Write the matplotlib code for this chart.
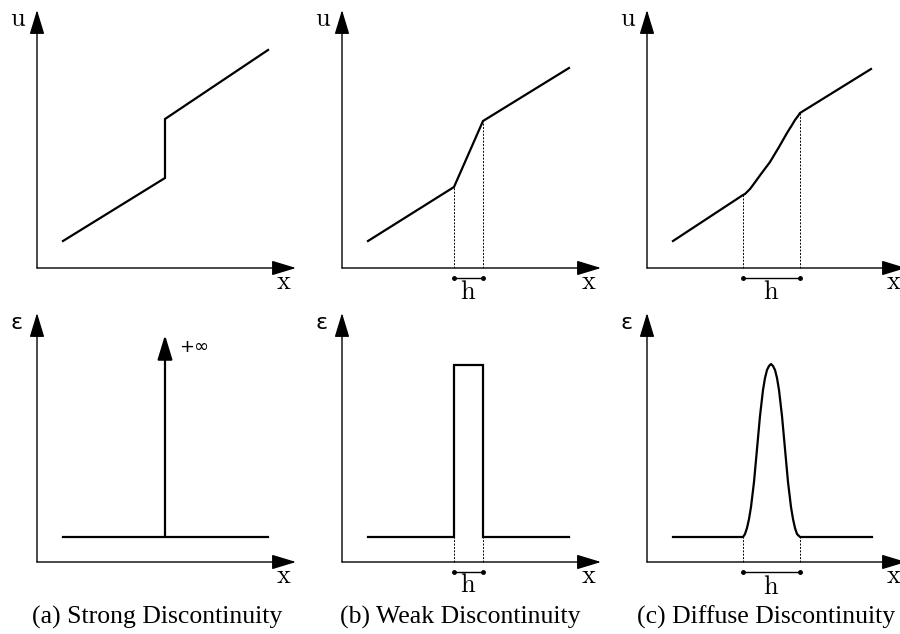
import matplotlib
matplotlib.use("Agg")
import matplotlib.pyplot as plt
from matplotlib.patches import FancyArrowPatch

plt.rcParams['mathtext.fontset'] = 'cm'

## panel origins (figure pixels) and captions
panel_x0 = [37, 342, 647]
top_y0 = 268
bot_y0 = 562
captions = ["(a) Strong Discontinuity", "(b) Weak Discontinuity", "(c) Diffuse Discontinuity"]
caption_dx = [120, 118, 119]

## displacement u(x), local units (x right, y up from origin)
u_strong_x = [26, 128, 128, 231]
u_strong_y = [27, 90, 149, 218]
u_weak_x = [26, 112, 141, 227]
u_weak_y = [27, 81, 147, 200]
u_diffuse_x = [26, 96, 98, 100, 103, 106, 114, 123, 132, 140, 145, 148, 151, 153, 224]
u_diffuse_y = [27, 73, 74, 76, 79, 83, 94, 106, 121, 135, 143, 148, 152, 155, 199]

## strain eps(x)
eps_base = 25
eps_strong_x = [26, 231]
eps_strong_y = [25, 25]
eps_spike_x = 128
eps_spike_top = 227
eps_weak_x = [26, 112, 112, 141, 141, 227]
eps_weak_y = [25, 25, 197, 197, 25, 25]
eps_diffuse_x = [26, 96, 98, 100, 102, 104, 107, 110, 113, 116, 118, 120, 122, 124,
                 126, 128, 130, 132, 135, 138, 141, 144, 146, 148, 150, 153, 225]
eps_diffuse_y = [25, 25, 28, 34, 43, 55, 80, 113, 146, 172, 184, 192, 196, 198,
                 196, 192, 184, 172, 146, 113, 80, 55, 43, 34, 28, 25, 25]

fig = plt.figure(figsize=(9, 6.34), dpi=100)
ax = fig.add_axes([0, 0, 1, 1])
ax.set_xlim(0, 900)
ax.set_ylim(634, 0)
ax.axis('off')

def P(ox, oy, xs, ys):
    return [ox + x for x in xs], [oy - y for y in ys]

def arrow(x1, y1, x2, y2, lw=1.0):
    a = FancyArrowPatch((x1, y1), (x2, y2), arrowstyle='-|>,head_length=1.25,head_width=0.38',
                        mutation_scale=12, lw=lw, color='black', shrinkA=0, shrinkB=0)
    ax.add_patch(a)

def frame(ox, oy, ylab, ytop, xend):
    arrow(ox, oy, ox, oy - ytop)
    arrow(ox, oy, ox + xend, oy)
    if ylab == 'u':
        ax.text(ox - 19, oy - ytop + 9, r'$\mathrm{u}$', fontsize=19, ha='center', va='center')
    else:
        ax.text(ox - 20, oy - ytop + 10, 'ε', fontsize=16, ha='center', va='center',
                family='DejaVu Sans')
    ax.text(ox + xend - 12, oy + 14, r'$\mathrm{x}$', fontsize=19, ha='center', va='center')

def h_marker(ox, oy, x1, x2, ylo, yhi_left, yhi_right, dy_label):
    ax.plot([ox + x1, ox + x1], [oy - ylo, oy - yhi_left], ls=(0, (2, 1.5)), lw=0.7, color='black')
    ax.plot([ox + x2, ox + x2], [oy - ylo, oy - yhi_right], ls=(0, (2, 1.5)), lw=0.7, color='black')
    ax.plot([ox + x1, ox + x2], [oy + 10, oy + 10], lw=1.0, color='black',
            marker='o', markersize=2.5)
    ax.text(ox + (x1 + x2) / 2, oy + dy_label, r'$\mathrm{h}$', fontsize=19, ha='center', va='center')

curve_kw = dict(color='black', lw=1.6, solid_joinstyle='miter')

## top row: u
for i, (xs, ys) in enumerate([(u_strong_x, u_strong_y), (u_weak_x, u_weak_y),
                              (u_diffuse_x, u_diffuse_y)]):
    ox = panel_x0[i]
    frame(ox, top_y0, 'u', 258, 259)
    px, py = P(ox, top_y0, xs, ys)
    ax.plot(px, py, **curve_kw)

h_marker(panel_x0[1], top_y0, 112, 141, 0, 81, 147, 24)
h_marker(panel_x0[2], top_y0, 96, 153, 0, 73, 155, 24)

## bottom row: eps
for i in range(3):
    frame(panel_x0[i], bot_y0, 'eps', 249, 259)

ox = panel_x0[0]
px, py = P(ox, bot_y0, eps_strong_x, eps_strong_y)
ax.plot(px, py, **curve_kw)
arrow(ox + eps_spike_x, bot_y0 - eps_base, ox + eps_spike_x, bot_y0 - eps_spike_top, lw=1.6)
ax.text(ox + eps_spike_x + 14, bot_y0 - eps_spike_top + 12, '+∞', fontsize=13,
        ha='left', va='center', family='DejaVu Sans')

ox = panel_x0[1]
px, py = P(ox, bot_y0, eps_weak_x, eps_weak_y)
ax.plot(px, py, **curve_kw)
h_marker(ox, bot_y0, 112, 141, 0, eps_base, eps_base, 23)

ox = panel_x0[2]
px, py = P(ox, bot_y0, eps_diffuse_x, eps_diffuse_y)
ax.plot(px, py, color='black', lw=1.6)
h_marker(ox, bot_y0, 96, 153, 0, eps_base, eps_base, 25)

## captions
for i in range(3):
    ax.text(panel_x0[i] + caption_dx[i], 617, captions[i], fontsize=18.5,
            ha='center', va='center', family='Liberation Serif')

fig.savefig('out.png', dpi=100)
